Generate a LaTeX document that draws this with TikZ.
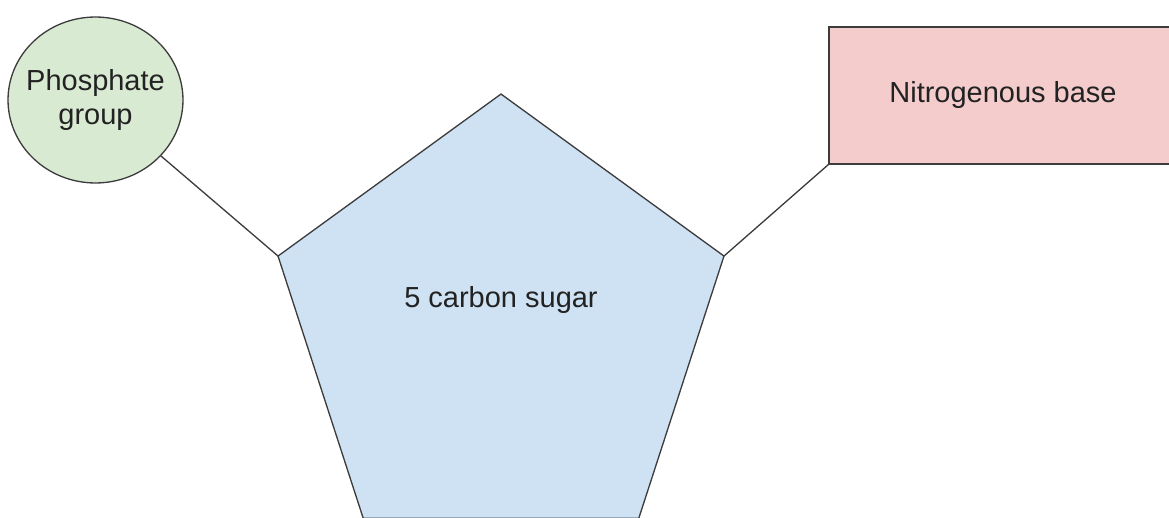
\documentclass[tikz,border=0pt]{standalone}
\usepackage{fontspec}
\setmainfont{Liberation Sans}
\usepackage{tikz}
\usetikzlibrary{shapes.geometric}
\definecolor{PaleGreen}{RGB}{217,234,211}
\definecolor{PaleBlue}{RGB}{207,226,243}
\definecolor{PaleRed}{RGB}{244,204,204}
\definecolor{Edge}{RGB}{60,60,60}
\definecolor{Ink}{RGB}{34,34,34}
\tikzset{
  part/.style={draw=Edge,line width=0.75pt,inner sep=0pt,outer sep=0pt,text=Ink,align=center,font=\fontsize{16.5}{19.5}\selectfont},
  phosbox/.style={part,ellipse,fill=PaleGreen,inner xsep=-0.2cm,minimum width=3.5cm,minimum height=3.32cm},
  sugarbox/.style={part,regular polygon,regular polygon sides=5,fill=PaleBlue,minimum size=9.38cm},
  basebox/.style={part,rectangle,fill=PaleRed,minimum width=6.96cm,minimum height=2.74cm},
  link/.style={draw=Edge,line width=0.75pt}
}
\begin{document}
\begin{tikzpicture}[x=0.02cm,y=-0.02cm]
\useasboundingbox (0,0) rectangle (1169,517);
\clip (0,0) rectangle (1169,517);
\node[phosbox] (phos) at (95.5,100) {Phosphate\\group};
\node[sugarbox,label={[text=Ink,font=\fontsize{16.5}{19.5}\selectfont,yshift=0.57cm]center:5 carbon sugar}] (sugar) at (501,328.5) {};
\node[basebox] (base) at (1003,95.5) {Nitrogenous base};
\draw[link] (phos)--(sugar.corner 2); \draw[link] (base.south west)--(sugar.corner 5);
\end{tikzpicture}
\end{document}
